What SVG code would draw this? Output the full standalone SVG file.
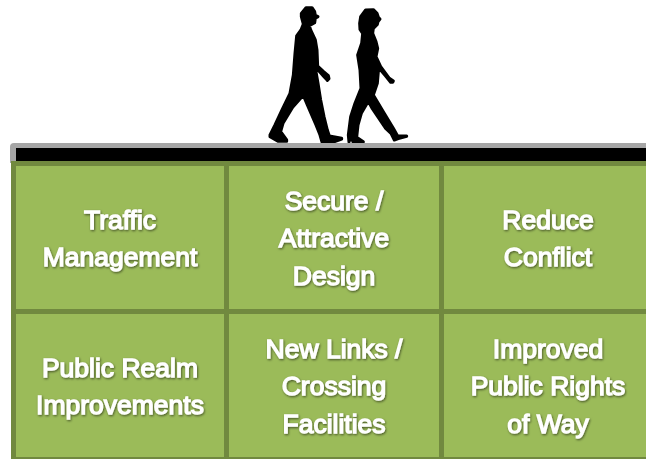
<svg xmlns="http://www.w3.org/2000/svg" width="646" height="459" viewBox="0 0 646 459">
<defs>
<style>
.cell{fill:#9bbb59;stroke:#71893f;stroke-width:5}
.sil{fill:#000;stroke:#000;stroke-width:9;stroke-linejoin:round}
text{font-family:"Liberation Sans",Arial,sans-serif;font-size:26.5px;fill:#fff;stroke:#fff;stroke-width:1.3;text-anchor:middle;filter:url(#sh)}
</style>
<filter id="sh" x="-10%" y="-20%" width="120%" height="150%">
<feDropShadow dx="0.8" dy="1.2" stdDeviation="1" flood-color="#000" flood-opacity=".55"/>
</filter>
</defs>
<rect width="646" height="459" fill="#fff"/>
<g id="walkers">
<g transform="translate(250 0) scale(.33333)">
<path class="sil" d="M154 40L168 23L186 23L194 35L196 46L204 50L196 55L194 68L178 77L182 90L196 120L201 150L203 198L220 214L235 227L237 236L232 241L222 230L202 208L198 215L204 250L212 300L222 350L232 390L238 408L275 415L275 417L250 426L216 426L210 405L198 375L172 315L160 286L128 322L99 370L92 395L110 420L110 424L85 424L60 410L60 405L75 375L96 330L120 280L130 225L135 160L140 108L153 90L160 72L154 50Z"/>
<path class="sil" d="M332 50L347 30L370 29L381 40L385 52L390 57L384 65L382 73L370 85L368 100L378 125L383 145L378 170L392 200L417 234L430 243L428 247L422 247L407 228L386 203L382 250L370 285L400 335L430 385L443 408L470 408L470 409L445 416L433 420L423 400L407 385L367 326L355 304L334 340L324 375L320 412L340 425L340 426L309 426L303 410L297 426L295 405L302 350L315 310L333 265L330 210L323 165L335 130L338 100L330 88L329 70Z"/>
</g>
</g>
<g id="road">
<path d="M10 163V147Q10 143 14 143H646V163Z" fill="#a6a6a6"/>
<rect x="16" y="148" width="630" height="14" fill="#000"/>
</g>
<g id="traffic-management"><rect class="cell" x="13.500" y="163.500" width="213" height="148"/><text x="120" y="229">Traffic</text><text x="120" y="266">Management</text></g>
<g id="secure-design"><rect class="cell" x="226.500" y="163.500" width="215" height="148"/><text x="334" y="210">Secure /</text><text x="334" y="247">Attractive</text><text x="334" y="285">Design</text></g>
<g id="reduce-conflict"><rect class="cell" x="441.500" y="163.500" width="215" height="148"/><text x="548" y="229">Reduce</text><text x="548" y="266">Conflict</text></g>
<g id="public-realm"><rect class="cell" x="13.500" y="311.500" width="213" height="148"/><text x="120" y="377">Public Realm</text><text x="120" y="414">Improvements</text></g>
<g id="new-links"><rect class="cell" x="226.500" y="311.500" width="215" height="148"/><text x="334" y="358">New Links /</text><text x="334" y="395">Crossing</text><text x="334" y="433">Facilities</text></g>
<g id="rights-of-way"><rect class="cell" x="441.500" y="311.500" width="215" height="148"/><text x="548" y="358">Improved</text><text x="548" y="395">Public Rights</text><text x="548" y="433">of Way</text></g>
<g id="connectors"/>
</svg>
